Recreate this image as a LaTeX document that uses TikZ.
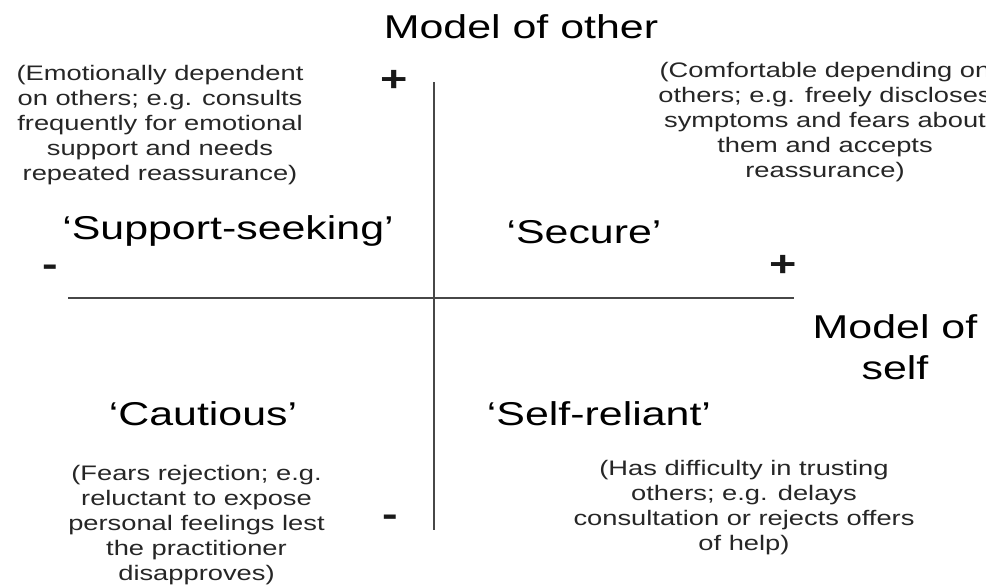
\documentclass[tikz,border=0pt]{standalone}
\usepackage{fontspec}
\setmainfont{Liberation Sans}
\begin{document}
\begin{tikzpicture}[x=0.5pt,y=-0.5pt,
  title/.style={font=\fontsize{16.5}{20.5}\selectfont, xscale=1.3, align=center, inner sep=0pt, text=black},
  note/.style={font=\fontsize{10.5}{12.5}\selectfont, xscale=1.3, align=center, inner sep=0pt, text=black!85},
  sign/.style={font=\fontsize{18}{18}\selectfont\bfseries, xscale=1.3, inner sep=0pt, anchor=base, text=black!90},
  axisline/.style={line width=1.25pt, draw=black!72}]
\useasboundingbox (0,0) rectangle (986,586);
\clip (0,0) rectangle (986,586);
\fill[white] (0,0) rectangle (986,586);

% axes
\coordinate (othertop) at (434,82);
\coordinate (otherbot) at (434,530);
\coordinate (selfleft) at (68,298);
\coordinate (selfright) at (794,298);
\draw[axisline] (othertop) -- (otherbot);
\draw[axisline] (selfleft) -- (selfright);

% axis titles
\node[title, anchor=base] (modelother) at (521,38) {Model of other};
\node[title] (modelself) at (895,347.5) {Model of\\self};

% axis signs
\node[sign] (otherplus) at (394,91) {+};
\node[sign] (otherminus) at (390.5,526) {-};
\node[sign] (selfplus) at (783.5,276) {+};
\node[sign] (selfminus) at (50,276) {-};

% quadrant names
\node[title, anchor=base] (support) at (228,239) {‘Support-seeking’};
\node[title, anchor=base] (secure) at (584,243) {‘Secure’};
\node[title, anchor=base] (cautious) at (203,425) {‘Cautious’};
\node[title, anchor=base] (selfreliant) at (599,425) {‘Self-reliant’};

% quadrant descriptions
\node[note] (supportnote) at (160,125.5) {(Emotionally dependent\\on others; e.g. consults\\frequently for emotional\\support and needs\\repeated reassurance)};
\node[note] (securenote) at (825,122) {(Comfortable depending on\\others; e.g. freely discloses\\symptoms and fears about\\them and accepts\\reassurance)};
\node[note] (cautiousnote) at (196.5,525.5) {(Fears rejection; e.g.\\reluctant to expose\\personal feelings lest\\the practitioner\\disapproves)};
\node[note] (selfreliantnote) at (744,508) {(Has difficulty in trusting\\others; e.g. delays\\consultation or rejects offers\\of help)};
\end{tikzpicture}
\end{document}
